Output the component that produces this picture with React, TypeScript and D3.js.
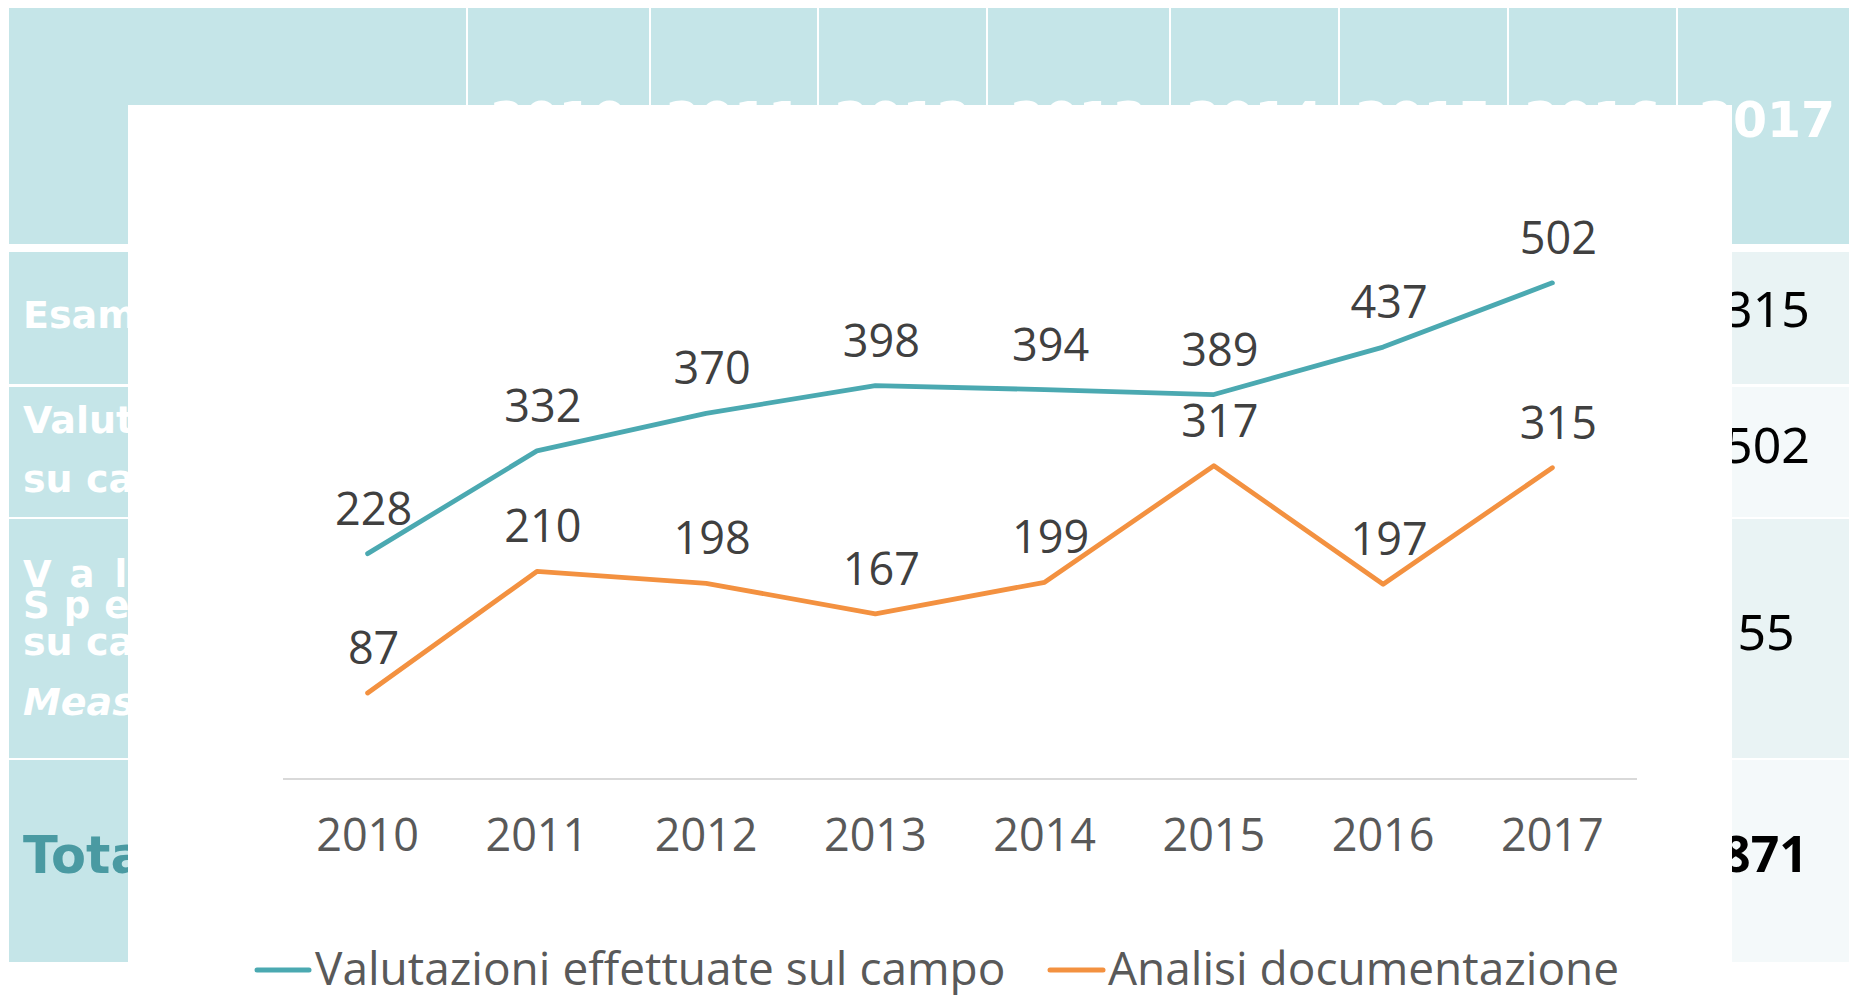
import React, { useEffect } from 'react';
import * as d3 from 'd3';

// ---- chart data ----
const years: string[] = ['2010', '2011', '2012', '2013', '2014', '2015', '2016', '2017'];
const valutazioniCampo: number[] = [228, 332, 370, 398, 394, 389, 437, 502];
const analisiDocumentazione: number[] = [87, 210, 198, 167, 199, 317, 197, 315];
const seriesNames: string[] = ['Valutazioni effettuate sul campo', 'Analisi documentazione'];
const seriesColors: string[] = ['#4ba9b1', '#f39140'];

// ---- background table (partly hidden behind the chart) ----
const tableHeaderYears: string[] = years;
const tableRowLines: string[][] = [
  ['Esame documentale'],
  ['Valutazioni', 'su campo'],
  ['Valutazioni', 'Speciali', 'su campo', 'Measurement Audit'],
  ['Totale'],
];
const tableLastColumn: string[] = ['315', '502', '55', '871'];

const W = 1849;
const H = 995;

export default function App() {
  useEffect(() => {
    document.body.style.margin = '0';
    document.body.style.overflow = 'hidden';
  }, []);

  // layout of the table background
  const colEdges = [9, 467, 650, 818, 987, 1170, 1339, 1508, 1677, 1860];
  const rows = [
    { y0: 252, y1: 384 },
    { y0: 387, y1: 517 },
    { y0: 519, y1: 758 },
    { y0: 760, y1: 962 },
  ];
  const teal = '#c5e5e8';
  const lastColFills = ['#e9f3f4', '#f4f9fa', '#e9f3f4', '#f4f9fa'];
  const box = { x0: 128, y0: 105, x1: 1732, y1: 995 };

  // chart scales
  const x = d3.scalePoint<string>().domain(years).range([283, 1637]).padding(0.5);
  const y = d3.scaleLinear().domain([0, 600]).range([779, 779 - 593]);
  const line = d3
    .line<number>()
    .x((_, i) => x(years[i]) as number)
    .y((d) => y(d));

  const series = [valutazioniCampo, analisiDocumentazione];
  const chartFont = "'Open Sans', 'Noto Sans', sans-serif";
  const tableFont = "'DejaVu Sans', Verdana, sans-serif";

  const lastColCenter = 1767;

  return (
    <svg
      width={W}
      height={H}
      viewBox={`0 0 ${W} ${H}`}
      style={{ position: 'absolute', left: 0, top: 0, display: 'block', background: '#ffffff' }}
    >
      <defs>
        <clipPath id="clipHeader">
          <rect x={0} y={0} width={W} height={box.y0} />
          <rect x={box.x1} y={0} width={W - box.x1} height={250} />
        </clipPath>
        <clipPath id="clipLeft">
          <rect x={0} y={0} width={box.x0} height={H} />
        </clipPath>
        <clipPath id="clipRight">
          <rect x={box.x1} y={0} width={W - box.x1} height={H} />
        </clipPath>
      </defs>

      {/* ---------- table background ---------- */}
      <rect x={9} y={8} width={W - 9} height={244 - 8} fill={teal} />
      {colEdges.slice(1, 9).map((cx, i) => (
        <line key={'div' + i} x1={cx} x2={cx} y1={8} y2={244} stroke="#ffffff" strokeWidth={2} />
      ))}
      <g clipPath="url(#clipHeader)">
        {tableHeaderYears.map((yr, i) => (
          <text
            key={'hy' + yr}
            x={i === 7 ? lastColCenter : (colEdges[i + 1] + colEdges[i + 2]) / 2}
            y={137}
            textAnchor="middle"
            fontFamily={tableFont}
            fontWeight="bold"
            fontSize={49}
            fill="#ffffff"
          >
            {yr}
          </text>
        ))}
      </g>

      {rows.map((r, i) => (
        <g key={'row' + i}>
          <rect x={9} y={r.y0} width={box.x0 - 9 + 10} height={r.y1 - r.y0} fill={teal} />
          <rect x={colEdges[8]} y={r.y0} width={W - colEdges[8]} height={r.y1 - r.y0} fill={lastColFills[i]} />
        </g>
      ))}

      <g clipPath="url(#clipLeft)" fontFamily={tableFont} fontWeight="bold" fill="#ffffff">
        <text x={23} y={328} fontSize={38}>{tableRowLines[0][0]}</text>
        <text x={23} y={433} fontSize={38}>{tableRowLines[1][0]}</text>
        <text x={23} y={492} fontSize={38}>{tableRowLines[1][1]}</text>
        <text x={23} y={587} fontSize={37} letterSpacing={20}>{tableRowLines[2][0]}</text>
        <text x={23} y={618} fontSize={37} letterSpacing={14}>{tableRowLines[2][1]}</text>
        <text x={23} y={655} fontSize={38}>{tableRowLines[2][2]}</text>
        <text x={23} y={715} fontSize={38} fontStyle="italic">{tableRowLines[2][3]}</text>
        <text x={23} y={873} fontSize={51} fill="#4a9aa2">{tableRowLines[3][0]}</text>
      </g>

      <g clipPath="url(#clipRight)" fontFamily="'Noto Sans', sans-serif" fill="#000000" textAnchor="middle">
        <text x={1767} y={327} fontSize={50}>{tableLastColumn[0]}</text>
        <text x={1767} y={463} fontSize={50}>{tableLastColumn[1]}</text>
        <text x={1766} y={650} fontSize={50}>{tableLastColumn[2]}</text>
        <text x={1765} y={872} fontSize={50} fontWeight="bold">{tableLastColumn[3]}</text>
      </g>

      {/* ---------- chart area ---------- */}
      <rect x={box.x0} y={box.y0} width={box.x1 - box.x0} height={box.y1 - box.y0} fill="#ffffff" />

      <line x1={283} x2={1637} y1={y(0)} y2={y(0)} stroke="#d9d9d9" strokeWidth={2} />

      {years.map((yr) => (
        <text
          key={'tick' + yr}
          x={x(yr)}
          y={851}
          textAnchor="middle"
          fontFamily={chartFont}
          fontSize={45}
          fill="#595959"
        >
          {yr}
        </text>
      ))}

      {series.map((vals, si) => (
        <path
          key={'line' + si}
          d={line(vals) || ''}
          fill="none"
          stroke={seriesColors[si]}
          strokeWidth={4.8}
          strokeLinecap="round"
          strokeLinejoin="round"
        />
      ))}

      {series.map((vals, si) =>
        vals.map((v, i) => (
          <text
            key={'lab' + si + '-' + i}
            x={(x(years[i]) as number) + 6}
            y={y(v) - 29}
            textAnchor="middle"
            fontFamily={chartFont}
            fontSize={45}
            fill="#404040"
          >
            {v}
          </text>
        ))
      )}

      {/* legend */}
      <line x1={257} x2={309} y1={970} y2={970} stroke={seriesColors[0]} strokeWidth={5} strokeLinecap="round" />
      <text x={315} y={985} fontFamily={chartFont} fontSize={46} fill="#595959">
        {seriesNames[0]}
      </text>
      <line x1={1050} x2={1103} y1={970} y2={970} stroke={seriesColors[1]} strokeWidth={5} strokeLinecap="round" />
      <text x={1108} y={985} fontFamily={chartFont} fontSize={46} fill="#595959">
        {seriesNames[1]}
      </text>
    </svg>
  );
}
